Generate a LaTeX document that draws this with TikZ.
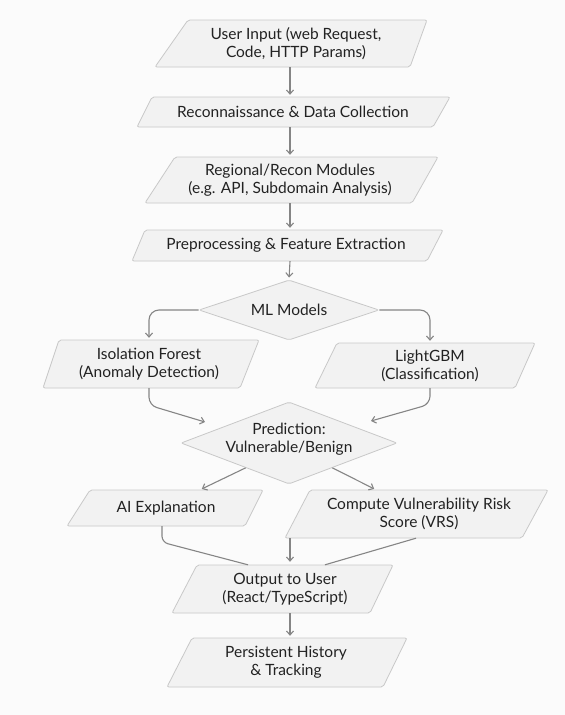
\documentclass[tikz,border=0pt]{standalone}
\usepackage{fontspec}
\setmainfont{Lato}
\usetikzlibrary{shapes.geometric,arrows.meta,calc}
\definecolor{bg}{HTML}{FBFBFB}
\definecolor{boxfill}{HTML}{F2F2F2}
\definecolor{boxline}{HTML}{C8C8C8}
\definecolor{arrowc}{HTML}{858585}
\definecolor{txtc}{HTML}{222222}
\tikzset{
  pbox/.style={fill=boxfill, draw=boxline, line width=0.8pt, rounded corners=2pt},
  txt/.style={inner sep=0pt, align=center, text=txtc, font=\fontsize{15.5}{18}\selectfont},
  dia/.style={diamond, pbox, inner sep=-6pt, align=center, text=txtc, font=\fontsize{15.5}{18}\selectfont},
  arr/.style={draw=arrowc, line width=1.1pt, -{Straight Barb[length=4pt,width=7pt]}, shorten >=2pt},
  link/.style={draw=arrowc, line width=1.1pt},
}
\newcommand\pgram[6]{\path[pbox] (#3,#2) -- (#4,#1) -- (#5,#1) -- (#6,#2) -- cycle;}
\begin{document}
\begin{tikzpicture}[x=1pt,y=-1pt]
\fill[bg] (0,0) rectangle (565,715);
\useasboundingbox (0,0) rectangle (565,715);
\coordinate (col) at (290,0);

\pgram{20}{67}{155}{188}{427}{410}
\node[txt, minimum height=47pt] (user) at (296,43.5) {User Input (web Request,\\Code, HTTP Params)};
\pgram{97}{127}{137}{152}{450}{433}
\node[txt, minimum height=30pt] (recon) at (293,112) {Reconnaissance \& Data Collection};
\pgram{157}{203}{145}{175}{438}{412}
\node[txt, minimum height=46pt] (reg) at (290,180) {Regional/Recon Modules\\(e.g. API, Subdomain Analysis)};
\pgram{230}{261}{132}{145}{443}{427}
\node[txt, minimum height=31pt] (pre) at (286,245.5) {Preprocessing \& Feature Extraction};
\node[dia, aspect=3, minimum width=180pt, minimum height=60pt] (ml) at (289,310) {ML Models};
\pgram{340}{388}{43}{59}{259}{240}
\node[txt, minimum height=48pt] (iso) at (149,364) {Isolation Forest\\(Anomaly Detection)};
\pgram{343}{388}{315}{337}{535}{515}
\node[txt, minimum height=45pt] (lgbm) at (430,365.5) {LightGBM\\(Classification)};
\node[dia, aspect=2.6, minimum width=216pt, minimum height=82pt, text depth=11pt] (pred) at (289,443) {Prediction:\\Vulnerable/Benign};
\pgram{490}{526}{67}{90}{263}{245}
\node[txt, minimum height=36pt] (ai) at (166,508) {AI Explanation};
\pgram{490}{538}{285}{310}{548}{522}
\node[txt, minimum height=48pt] (vrs) at (419,514) {Compute Vulnerability Risk\\Score (VRS)};
\pgram{565}{613}{172}{197}{393}{370}
\node[txt, minimum height=48pt] (out) at (285,589) {Output to User\\(React/TypeScript)};
\pgram{638}{687}{167}{192}{407}{383}
\node[txt, minimum height=49pt] (pers) at (286,662.5) {Persistent History\\\& Tracking};

\coordinate (p1) at (205,422);
\coordinate (p2) at (371,421);

\draw[arr] (user.south -| col) -- (recon.north -| col);
\draw[arr] (recon.south -| col) -- (reg.north -| col);
\draw[arr] (reg.south -| col) -- (pre.north -| col);
\draw[arr] (pre.south -| col) -- (ml.north);
\draw[arr, rounded corners=10pt] (ml.west) -| (iso.north);
\draw[arr, rounded corners=10pt] (ml.east) -| (lgbm.north);
\draw[arr, rounded corners=8pt, shorten >=0pt] (iso.south) -- ++(0,17) -- (p1);
\draw[arr, rounded corners=8pt, shorten >=0pt] (lgbm.south) -- ++(0,16) -- (p2);
\draw[arr] ($(pred.west)!0.6!(pred.south)$) -- ($(ai.north)+(34,0)$);
\draw[arr] ($(pred.east)!0.6!(pred.south)$) -- ($(vrs.north)+(-43,0)$);
\draw[link, rounded corners=6pt] ($(ai.south)+(-4,0)$) -- ++(0,16) -- ($(out.north)+(-37,0)$);
\draw[link] ($(vrs.south)+(-3,0)$) -- ($(out.north)+(40,0)$);
\draw[arr, shorten >=3pt] (vrs.south -| col) -- (out.north -| col);
\draw[arr] (out.south -| col) -- (pers.north -| col);
\end{tikzpicture}
\end{document}
